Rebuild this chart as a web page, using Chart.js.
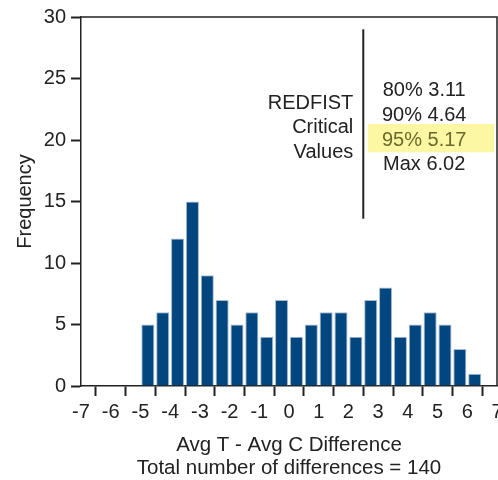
<!DOCTYPE html>
<html>
<head>
<meta charset="utf-8">
<script src="https://cdn.jsdelivr.net/npm/chart.js@4/dist/chart.umd.min.js"></script>
<style>
  html, body { margin: 0; padding: 0; background: #fff; }
</style>
</head>
<body>
<canvas id="hist" width="498" height="480"></canvas>
<script>
// histogram bins (left edge of each 0.5-wide bin) and counts
const binStarts = [-5, -4.5, -4, -3.5, -3, -2.5, -2, -1.5, -1, -0.5, 0, 0.5,
                   1, 1.5, 2, 2.5, 3, 3.5, 4, 4.5, 5, 5.5, 6];
const frequencies = [5, 6, 12, 15, 9, 7, 5, 6, 4, 7, 4, 5,
                     6, 6, 4, 7, 8, 4, 5, 6, 5, 3, 1];
const binWidth = 0.5;

const xTicks = [-7, -6, -5, -4, -3, -2, -1, 0, 1, 2, 3, 4, 5, 6, 7];
const yTicks = [0, 5, 10, 15, 20, 25, 30];

const criticalLabels = ['80%', '90%', '95%', 'Max'];
const criticalValues = ['3.11', '4.64', '5.17', '6.02'];
const headingLines = ['REDFIST', 'Critical', 'Values'];

const ink = '#222';
const fontFamily = '"Liberation Sans", Arial, Helvetica, sans-serif';

const points = binStarts.map((b, i) => ({ x: b + binWidth / 2, y: frequencies[i] }));

const annotate = {
  id: 'annotate',
  afterDraw(chart) {
    const ctx = chart.ctx;
    const a = chart.chartArea;
    const x = chart.scales.x;
    const y = chart.scales.y;
    ctx.save();

    // top and right frame
    ctx.strokeStyle = ink;
    ctx.lineWidth = 1.5;
    ctx.beginPath();
    ctx.moveTo(a.left, a.top);
    ctx.lineTo(a.right, a.top);
    ctx.lineTo(a.right, a.bottom);
    ctx.stroke();

    // divider line
    const xl = x.getPixelForValue(2.5);
    ctx.lineWidth = 2;
    ctx.beginPath();
    ctx.moveTo(xl, y.getPixelForValue(29));
    ctx.lineTo(xl, y.getPixelForValue(13.6));
    ctx.stroke();

    // highlight for the 95% row
    const hx0 = x.getPixelForValue(2.65), hx1 = x.getPixelForValue(6.9);
    const hy0 = y.getPixelForValue(21.3), hy1 = y.getPixelForValue(19.0);
    ctx.fillStyle = '#fbf7a2';
    ctx.fillRect(hx0, hy0, hx1 - hx0, hy1 - hy0);

    ctx.font = '20px ' + fontFamily;
    ctx.textBaseline = 'middle';

    ctx.fillStyle = ink;
    ctx.textAlign = 'right';
    headingLines.forEach((t, i) => {
      ctx.fillText(t, xl - 10, y.getPixelForValue(23 - 2 * i));
    });

    ctx.textAlign = 'center';
    const cx = x.getPixelForValue(4.55);
    criticalLabels.forEach((t, i) => {
      ctx.fillStyle = i === 2 ? '#6b6a2e' : ink;
      ctx.fillText(t + ' ' + criticalValues[i], cx, y.getPixelForValue(24 - 2 * i));
    });

    ctx.restore();
  }
};

new Chart(document.getElementById('hist'), {
  type: 'bar',
  data: {
    datasets: [{
      data: points,
      backgroundColor: '#02467f',
      borderColor: '#a8bbcf',
      borderWidth: 1,
      barPercentage: 0.88,
      categoryPercentage: 1
    }]
  },
  options: {
    responsive: false,
    animation: false,
    layout: { padding: { top: 16, right: 1, left: 0, bottom: 0 } },
    plugins: { legend: { display: false }, tooltip: { enabled: false } },
    scales: {
      x: {
        type: 'linear',
        min: -7,
        max: 7,
        offset: false,
        afterBuildTicks(s) { s.ticks = xTicks.map(v => ({ value: v })); },
        afterFit(s) { s.height = 94; s.paddingLeft = 0; s.paddingRight = 0; },
        ticks: { color: ink, font: { size: 20, family: fontFamily }, padding: 4, maxRotation: 0, autoSkip: false },
        grid: { drawOnChartArea: false, tickLength: 10, tickWidth: 2, tickColor: ink },
        border: { color: ink, width: 1.5 },
        title: {
          display: true,
          text: ['Avg T - Avg C Difference', 'Total number of differences = 140'],
          color: ink,
          font: { size: 20.5, family: fontFamily, lineHeight: 1.14 },
          padding: { top: 0, bottom: 0 }
        }
      },
      y: {
        min: 0,
        max: 30,
        afterBuildTicks(s) { s.ticks = yTicks.map(v => ({ value: v })); },
        afterFit(s) { s.width = 81; },
        ticks: { color: ink, font: { size: 20, family: fontFamily }, padding: 5 },
        grid: { drawOnChartArea: false, tickLength: 10, tickWidth: 2, tickColor: ink },
        border: { color: ink, width: 1.5 },
        title: {
          display: true,
          text: 'Frequency',
          color: ink,
          font: { size: 20, family: fontFamily, lineHeight: 1.2 },
          padding: { top: 13, bottom: 0 }
        }
      }
    }
  },
  plugins: [annotate]
});
</script>
</body>
</html>
